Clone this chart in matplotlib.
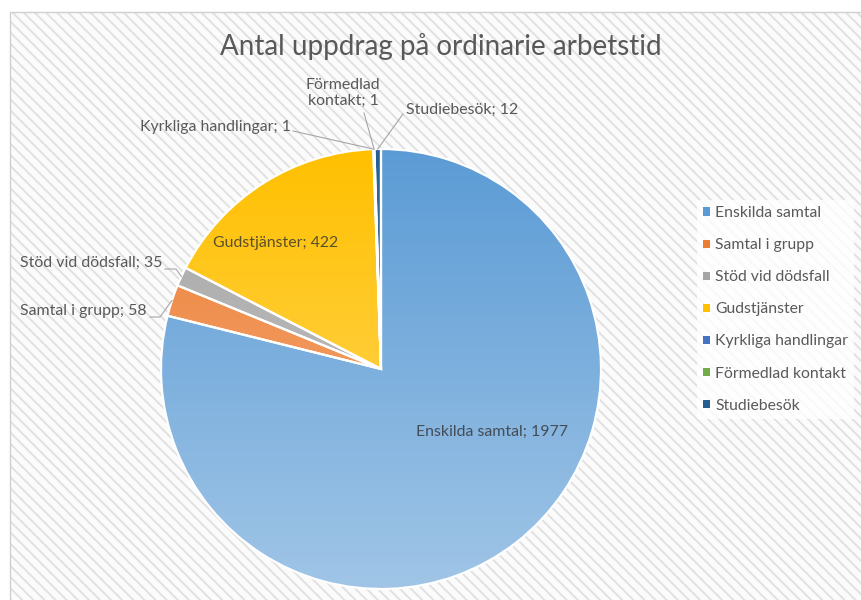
import numpy as np
import matplotlib
matplotlib.use('Agg')
import matplotlib.pyplot as plt
from matplotlib.patches import Rectangle, Patch
from matplotlib.colors import to_rgb

categories = ["Enskilda samtal", "Samtal i grupp", "Stöd vid dödsfall", "Gudstjänster",
              "Kyrkliga handlingar", "Förmedlad kontakt", "Studiebesök"]
values = [1977, 58, 35, 422, 1, 1, 12]
colors = ["#5B9BD5", "#ED7D31", "#A5A5A5", "#FFC000", "#4472C4", "#70AD47", "#255E91"]
title = "Antal uppdrag på ordinarie arbetstid"

W, H = 861, 600
plt.rcParams['font.family'] = ['Lato', 'DejaVu Sans']
plt.rcParams['hatch.linewidth'] = 1.3

fig = plt.figure(figsize=(8.61, 6.0), dpi=100)
ax = fig.add_axes([0, 0, 1, 1])


def P(x, y):
    return (x, H - y)


cx, cy = P(381, 369)
R = 220

wedges, _ = ax.pie(values, colors=colors, startangle=90, counterclock=False,
                   center=(cx, cy), radius=R,
                   wedgeprops=dict(edgecolor='white', linewidth=1.6, zorder=3))

# background: hatched chart area
bg = Rectangle((10, -5), W, H - 12 + 5, facecolor='#fbfbfb', edgecolor='#e0e0e0',
               hatch='\\\\\\', linewidth=0, zorder=0)
ax.add_patch(bg)
border = Rectangle((10, -5), W, H - 12 + 5, facecolor='none', edgecolor='#d0d0d0',
                   linewidth=1.0, zorder=0.5)
ax.add_patch(border)

# gradient fills clipped to wedges
t = np.linspace(0, 1, 256)[:, None]
for w, c in zip(wedges, colors):
    top = np.array(to_rgb(c))
    bot = top * 0.58 + 0.42
    img = (top[None, :] * (1 - t) + bot[None, :] * t)[:, None, :]
    im = ax.imshow(img, extent=(cx - R, cx + R, cy - R, cy + R), origin='upper',
                   aspect='auto', zorder=2, interpolation='bilinear')
    im.set_clip_path(w)
    w.set_facecolor('none')

labels = [f"{c}; {v}" for c, v in zip(categories, values)]
lab_fs = 11.4
inner_col = (0.2, 0.2, 0.2, 0.8)
out_col = '#595959'
line_col = '#a6a6a6'

# inner labels
ax.text(*P(492, 432), labels[0], ha='center', va='center', fontsize=lab_fs, color=inner_col, zorder=5)
ax.text(*P(276, 243), labels[3], ha='center', va='center', fontsize=lab_fs, color=inner_col, zorder=5)


def arc_point(w):
    th = np.deg2rad((w.theta1 + w.theta2) / 2)
    return cx + R * np.cos(th), cy + R * np.sin(th)


def leader(w, pts):
    ex, ey = arc_point(w)
    xs = [P(*p)[0] for p in pts] + [ex]
    ys = [P(*p)[1] for p in pts] + [ey]
    ax.plot(xs, ys, color=line_col, lw=0.8, zorder=4)


# outside labels
ax.text(*P(20, 311), labels[1], ha='left', va='center', fontsize=lab_fs, color=out_col)
leader(wedges[1], [(150, 317), (160, 317)])
ax.text(*P(20, 263), labels[2], ha='left', va='center', fontsize=lab_fs, color=out_col)
leader(wedges[2], [(165, 269), (176, 269)])
ax.text(*P(140, 127), labels[4], ha='left', va='center', fontsize=lab_fs, color=out_col)
leader(wedges[4], [(293, 131)])
ax.text(*P(343, 93), "Förmedlad\nkontakt; 1", ha='center', va='center', fontsize=lab_fs,
        color=out_col, linespacing=1.2)
leader(wedges[5], [(364, 113)])
ax.text(*P(406, 110), labels[6], ha='left', va='center', fontsize=lab_fs, color=out_col)
leader(wedges[6], [(403, 114)])

# title
ax.text(*P(441, 47), title, ha='center', va='center', fontsize=20, color='#595959')

# legend
handles = [Patch(facecolor=c, edgecolor='none') for c in colors]
leg = ax.legend(handles, categories, loc='upper left',
                bbox_to_anchor=(697 / W, 1 - 200 / H), bbox_transform=fig.transFigure,
                frameon=True, fontsize=11.3, handlelength=0.45, handleheight=0.45,
                handletextpad=0.3, labelspacing=1.15, borderpad=0.4, borderaxespad=0,
                fancybox=False)
leg.get_frame().set_facecolor((1, 1, 1, 0.55))
leg.get_frame().set_edgecolor('none')
for tx in leg.get_texts():
    tx.set_color('#595959')

ax.set_xlim(0, W)
ax.set_ylim(0, H)
ax.axis('off')

fig.savefig('out.png', dpi=100, facecolor='white')
